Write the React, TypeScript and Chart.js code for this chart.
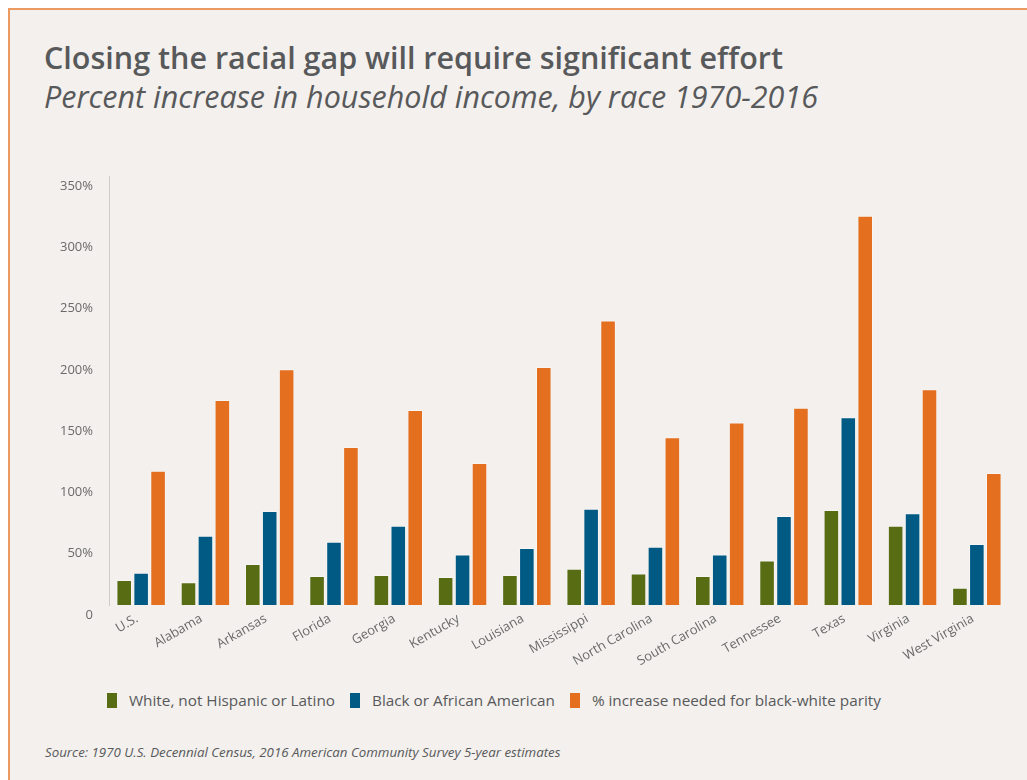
import React, { useEffect, useRef } from "react";
import { Chart, registerables } from "chart.js";

Chart.register(...registerables);

const categories = [
  "U.S.",
  "Alabama",
  "Arkansas",
  "Florida",
  "Georgia",
  "Kentucky",
  "Louisiana",
  "Mississippi",
  "North Carolina",
  "South Carolina",
  "Tennessee",
  "Texas",
  "Virginia",
  "West Virginia",
];
const whiteIncrease = [20.4, 18.5, 33.5, 23.7, 24.5, 22.8, 24.5, 29.6, 25.6, 23.7, 36.4, 77.5, 64.7, 14.1];
const blackIncrease = [26.4, 56.5, 76.7, 51.7, 64.7, 41.3, 46.5, 78.6, 47.6, 41.3, 72.6, 153.1, 74.8, 49.8];
const parityNeeded = [109.6, 167.3, 192.3, 128.9, 159.1, 115.9, 194.2, 232.2, 136.8, 148.8, 161.0, 317.6, 176.0, 107.7];
const yTickValues = [0, 50, 100, 150, 200, 250, 300, 350];

const seriesNames = [
  "White, not Hispanic or Latino",
  "Black or African American",
  "% increase needed for black-white parity",
];
const seriesColors = ["#586c14", "#005a84", "#e36f1f"];

const FONT = "'Open Sans', 'Noto Sans', sans-serif";
const TEXT = "#58595b";

export default function App() {
  const canvasRef = useRef<HTMLCanvasElement | null>(null);

  useEffect(() => {
    if (!canvasRef.current) return;
    const seriesValues = [whiteIncrease, blackIncrease, parityNeeded];
    const chart = new Chart(canvasRef.current, {
      type: "bar",
      data: {
        labels: categories,
        datasets: seriesNames.map((name, i) => ({
          label: name,
          data: seriesValues[i],
          backgroundColor: seriesColors[i],
          borderColor: "rgba(255,255,255,0.4)",
          borderWidth: 1,
          categoryPercentage: 0.79,
          barPercentage: 0.92,
        })),
      },
      options: {
        animation: false,
        responsive: false,
        maintainAspectRatio: false,
        layout: { padding: { top: 26, right: 18, bottom: 0, left: 0 } },
        plugins: {
          legend: { display: false },
          tooltip: { enabled: false },
        },
        scales: {
          x: {
            grid: { display: false, drawTicks: false },
            border: { display: false },
            ticks: {
              autoSkip: false,
              maxRotation: 30,
              minRotation: 30,
              padding: 6,
              labelOffset: -4,
              color: "#6a6a6a",
              font: { family: FONT, size: 13 },
            },
            afterFit: (s: any) => {
              s.height = 70;
            },
          },
          y: {
            min: 0,
            max: 350,
            grid: { display: false, drawTicks: false },
            border: { display: true, color: "#cfcccb", width: 1 },
            afterBuildTicks: (s: any) => {
              s.ticks = yTickValues.map((v) => ({ value: v }));
            },
            ticks: {
              padding: 16,
              labelOffset: 10,
              color: "#6a6a6a",
              font: { family: FONT, size: 13 },
              callback: (v: any) => (Number(v) === 0 ? "0" : v + "%"),
            },
            afterFit: (s: any) => {
              s.width = 99;
            },
          },
        },
      },
    });
    return () => chart.destroy();
  }, []);

  return (
    <div
      style={{
        position: "absolute",
        left: 8,
        top: 8,
        width: 1017,
        height: 770,
        background: "#f3f0ed",
        borderTop: "2px solid #ec9a62",
        borderLeft: "2px solid #ec9a62",
        fontFamily: FONT,
        overflow: "hidden",
      }}
    >
      <div
        style={{
          position: "absolute",
          left: 34,
          top: 30,
          fontSize: 30.5,
          lineHeight: "34px",
          fontWeight: 600,
          color: TEXT,
          whiteSpace: "nowrap",
        }}
      >
        Closing the racial gap will require significant effort
      </div>
      <div
        style={{
          position: "absolute",
          left: 34,
          top: 69,
          fontSize: 30.5,
          lineHeight: "34px",
          fontStyle: "italic",
          color: TEXT,
          whiteSpace: "nowrap",
        }}
      >
        Percent increase in household income, by race 1970-2016
      </div>
      <canvas
        ref={canvasRef}
        width={1017}
        height={525}
        style={{ position: "absolute", left: 0, top: 140, width: 1017, height: 525 }}
      />
      <div
        style={{
          position: "absolute",
          left: 97,
          top: 680,
          display: "flex",
          alignItems: "center",
          fontSize: 15.3,
          lineHeight: "20px",
          color: TEXT,
          whiteSpace: "nowrap",
        }}
      >
        {seriesNames.map((name, i) => (
          <div key={name} style={{ display: "flex", alignItems: "center", marginRight: 15 }}>
            <span
              style={{
                display: "inline-block",
                width: 10,
                height: 15,
                background: seriesColors[i],
                marginRight: 12,
              }}
            />
            <span>{name}</span>
          </div>
        ))}
      </div>
      <div
        style={{
          position: "absolute",
          left: 35,
          top: 733,
          fontSize: 13.3,
          lineHeight: "18px",
          fontStyle: "italic",
          color: TEXT,
          whiteSpace: "nowrap",
        }}
      >
        Source: 1970 U.S. Decennial Census, 2016 American Community Survey 5-year estimates
      </div>
    </div>
  );
}
